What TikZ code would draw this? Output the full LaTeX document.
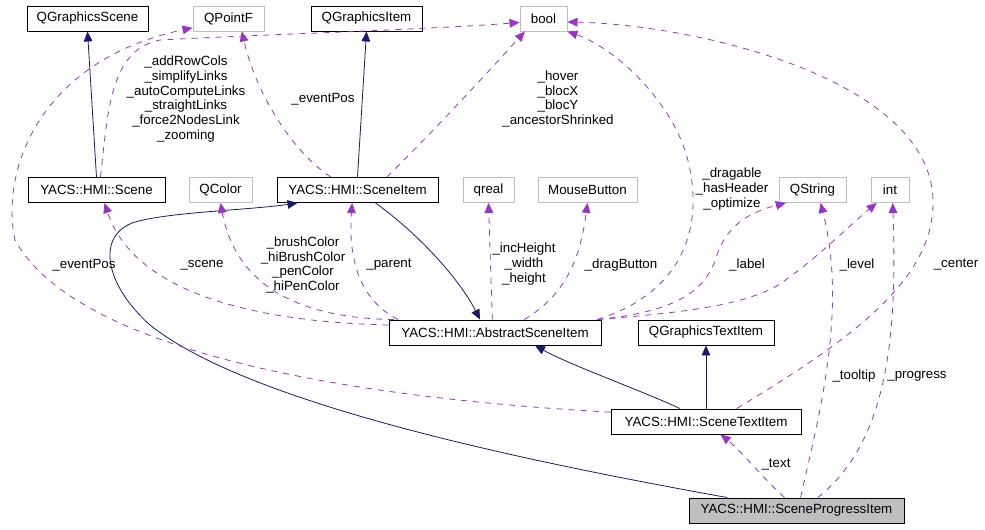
\documentclass[tikz,border=0pt]{standalone}
\usepackage{fontspec}
\setmainfont{Liberation Sans}
\usepackage{xcolor}
\usepackage{tikz}
\usetikzlibrary{arrows.meta}
\definecolor{inheritblue}{HTML}{191970}
\definecolor{usepurple}{HTML}{9A32CD}
\definecolor{extgrey}{HTML}{BFBFBF}

\tikzset{
  cls/.style={draw=black, line width=0.7pt, minimum height=18.75pt, inner sep=0pt,
              font=\fontsize{10pt}{11pt}\selectfont},
  extcls/.style={cls, draw=extgrey},
  thiscls/.style={cls, fill=extgrey},
  inherit/.style={draw=inheritblue, line width=0.6pt,
                  -{Triangle[length=7.5pt,width=6.5pt]}},
  uses/.style={draw=usepurple, line width=0.6pt, dash pattern=on 4.5pt off 4.5pt,
               -{Triangle[length=7.5pt,width=6.5pt]}},
  lbl/.style={align=center, inner sep=0pt, font=\fontsize{10pt}{11.1pt}\selectfont},
}

\begin{document}
\begin{tikzpicture}[x=0.75pt, y=-0.75pt]
  \useasboundingbox (0,0) rectangle (985,529);

  % top row
  \node[cls, minimum width=90.75pt] (qgs) at (87.5,18.5) {QGraphicsScene};
  \node[extcls, minimum width=53.25pt] (qpf) at (228.5,18.5) {QPointF};
  \node[cls, minimum width=83.25pt] (qgi) at (366.5,18.5) {QGraphicsItem};
  \node[extcls, minimum width=35.25pt] (bool) at (543.5,18.5) {bool};

  % second row
  \node[cls, minimum width=102.75pt] (scene) at (96.5,190) {YACS::HMI::Scene};
  \node[extcls, minimum width=47.25pt] (qcolor) at (220.5,190) {QColor};
  \node[cls, minimum width=120.75pt] (sceneitem) at (357.5,190) {YACS::HMI::SceneItem};
  \node[extcls, minimum width=38.25pt] (qreal) at (488.5,190) {qreal};
  \node[extcls, minimum width=74.25pt] (mb) at (587.5,190) {MouseButton};
  \node[extcls, minimum width=50.25pt] (qstring) at (812.5,190) {QString};
  \node[extcls, minimum width=28.5pt] (int) at (890,190) {int};

  % lower rows
  \node[cls, minimum width=159pt] (asi) at (495,332.5) {YACS::HMI::AbstractSceneItem};
  \node[cls, minimum width=102pt] (qgti) at (706,332.5) {QGraphicsTextItem};
  \node[cls, minimum width=142.5pt] (sti) at (706,421.5) {YACS::HMI::SceneTextItem};
  \node[thiscls, minimum width=161.25pt] (spi) at (796.5,510.5) {YACS::HMI::SceneProgressItem};

  % inheritance
  \draw[inherit] (scene.north) -- (qgs.south);
  \draw[inherit] (sceneitem.north) -- (qgi.south);
  \draw[inherit] ([xshift=13.5pt]sceneitem.south) .. controls (420,235) and (460,280) .. ([xshift=-11.25pt]asi.north);
  \draw[inherit] ([xshift=-19.5pt]sti.north) .. controls (640,390) and (570,365) .. ([xshift=30pt]asi.south);
  \draw[inherit] (sti.north) -- (qgti.south);
  \draw[inherit] ([xshift=-52pt]spi.north) .. controls (530,462) and (250,405) .. (150,325)
    .. controls (105,285) and (95,235) .. (135,222)
    .. controls (170,212) and (250,210) .. ([xshift=-45pt]sceneitem.south);

  % usage
  \draw[uses] ([xshift=3pt]scene.north) .. controls (108,110) and (110,50) .. (160,40)
    .. controls (250,35) and (420,30) .. ([yshift=-3pt]bool.west);
  \draw[uses] ([xshift=-20pt]sceneitem.north) .. controls (290,150) and (255,90) .. ([xshift=10pt]qpf.south);
  \draw[uses] ([xshift=22pt]sceneitem.north) .. controls (430,135) and (490,70) .. ([xshift=-14pt]bool.south);
  \draw[uses] ([xshift=-3pt]asi.north east) .. controls (690,290) and (700,220) .. (690,170)
    .. controls (680,110) and (620,50) .. (bool.south east);
  \draw[uses] ([xshift=23pt]sti.north) .. controls (850,340) and (935,280) .. (933,200)
    .. controls (930,80) and (700,25) .. ([yshift=-2.6pt]bool.east);
  \draw[uses] ([yshift=7pt]sti.west) .. controls (300,395) and (70,340) .. (15,240)
    .. controls (0,170) and (40,60) .. ([yshift=-7pt]qpf.west);
  \draw[uses] ([yshift=5.6pt]asi.west) .. controls (260,322) and (135,295) .. ([xshift=6pt]scene.south);
  \draw[uses] ([xshift=4pt]asi.north west) .. controls (290,318) and (235,280) .. (qcolor.south);
  \draw[uses] ([xshift=7pt]asi.north west) .. controls (360,300) and (348,260) .. ([xshift=-4pt]sceneitem.south);
  \draw[uses] ([xshift=-2pt]asi.north) -- (qreal.south);
  \draw[uses] ([xshift=22pt]asi.north) .. controls (565,295) and (580,260) .. (mb.south);
  \draw[uses] ([xshift=-3pt]asi.north east) .. controls (670,312) and (705,295) .. (717,255)
    .. controls (727,225) and (750,212) .. ([xshift=-20pt]qstring.south);
  \draw[uses] ([xshift=-3pt]asi.north east) .. controls (690,312) and (740,305) .. (775,287)
    .. controls (810,265) and (850,225) .. ([xshift=-10pt]int.south);
  \draw[uses] ([xshift=3pt]spi.north) .. controls (818,420) and (848,310) .. ([xshift=6pt]qstring.south);
  \draw[uses] ([xshift=16pt]spi.north) .. controls (890,440) and (897,330) .. ([xshift=2pt]int.south);
  \draw[uses] ([xshift=-9pt]spi.north) .. controls (765,480) and (740,450) .. ([xshift=11pt]sti.south);

  % member labels
  \node[lbl] (lscene) at (186,99) {\_addRowCols\\\_simplifyLinks\\\_autoComputeLinks\\\_straightLinks\\\_force2NodesLink\\\_zooming};
  \node[lbl] (leventpos) at (323,99) {\_eventPos};
  \node[lbl] (lhover) at (558,99) {\_hover\\\_blocX\\\_blocY\\\_ancestorShrinked};
  \node[lbl] (ldragable) at (732,189) {\_dragable\\\_hasHeader\\\_optimize};
  \node[lbl] (leventpostext) at (84,265) {\_eventPos};
  \node[lbl] (lscn) at (202,265) {\_scene};
  \node[lbl] (lcolor) at (303,265) {\_brushColor\\\_hiBrushColor\\\_penColor\\\_hiPenColor};
  \node[lbl] (lparent) at (389,265) {\_parent};
  \node[lbl] (lheight) at (524,264) {\_incHeight\\\_width\\\_height};
  \node[lbl] (ldrag) at (621,265) {\_dragButton};
  \node[lbl] (llabel) at (747,265) {\_label};
  \node[lbl] (llevel) at (857,265) {\_level};
  \node[lbl] (lcenter) at (956,265) {\_center};
  \node[lbl] (ltooltip) at (854,376) {\_tooltip};
  \node[lbl] (lprogress) at (917,376) {\_progress};
  \node[lbl] (ltext) at (776,465) {\_text};
\end{tikzpicture}
\end{document}
